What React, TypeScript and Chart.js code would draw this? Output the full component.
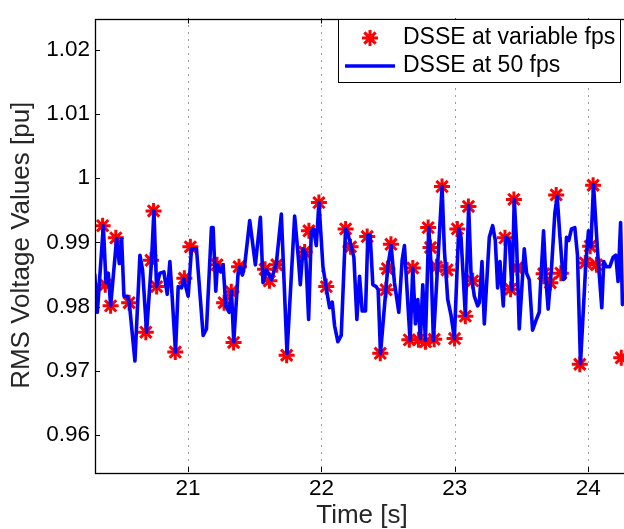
import React, { useEffect, useRef } from "react";
import { Chart, registerables } from "chart.js";

Chart.register(...registerables);

// ---- data ----
const lineTimes = [
  20.300, 20.3195, 20.3644, 20.3844, 20.4018, 20.4193, 20.4642, 20.4842, 20.5016, 20.5191,
  20.5440, 20.5590, 20.6014, 20.6389, 20.6588, 20.6888, 20.7262, 20.7437, 20.7636, 20.7886,
  20.8185, 20.8435, 20.8634, 20.8759, 20.9058, 20.9258, 20.9507, 20.9682, 21.0006, 21.0256,
  21.0630, 21.1129, 21.1379, 21.1753, 21.1877, 21.2077, 21.2202, 21.2451, 21.2626, 21.2826,
  21.3075, 21.3250, 21.3424, 21.3749, 21.3874, 21.4073, 21.4248, 21.4622, 21.5046, 21.5420,
  21.5620, 21.5869, 21.6243, 21.6618, 21.6992, 21.7416, 21.7990, 21.8239, 21.8414, 21.8614,
  21.8813, 21.9038, 21.9237, 21.9412, 21.9612, 21.9811, 22.0111, 22.0360, 22.0610, 22.0809,
  22.0984, 22.1233, 22.1483, 22.1807, 22.1982, 22.2231, 22.2431, 22.2656, 22.2855, 22.3055,
  22.3304, 22.3479, 22.3653, 22.3853, 22.4103, 22.4252, 22.4427, 22.4976, 22.5225, 22.5475,
  22.5799, 22.6049, 22.6223, 22.6473, 22.6648, 22.6847, 22.7047, 22.7222, 22.7421, 22.7596,
  22.7795, 22.8045, 22.8220, 22.8394, 22.9043, 22.9218, 22.9467, 22.9717, 22.9966, 23.0291,
  23.0465, 23.0790, 23.1039, 23.1214, 23.1463, 23.1713, 23.1838, 23.2037, 23.2212, 23.2586,
  23.2836, 23.3035, 23.3210, 23.3385, 23.3634, 23.3834, 23.4083, 23.4283, 23.4457, 23.4632,
  23.4832, 23.5206, 23.5381, 23.5580, 23.5830, 23.6079, 23.6329, 23.6428, 23.6653, 23.6827,
  23.6998, 23.7251, 23.7501, 23.7675, 23.7875, 23.8125, 23.8249, 23.8374, 23.8546, 23.8748,
  23.8998, 23.9197, 23.9422, 23.9822, 24.0021, 24.0196, 24.0400, 24.0695, 24.1019, 24.1168,
  24.1368, 24.1618, 24.1868, 24.2067, 24.2241, 24.2430, 24.2566,
];
const lineValues = [
  0.9850, 0.9791, 0.9926, 0.9837, 0.9852, 0.9801, 0.9906, 0.9867, 0.9906, 0.9816,
  0.9816, 0.9806, 0.9715, 0.9880, 0.9857, 0.9760, 0.9872, 0.9949, 0.9831, 0.9852,
  0.9854, 0.9819, 0.9870, 0.9831, 0.9729, 0.9831, 0.9829, 0.9843, 0.9816, 0.9890,
  0.9890, 0.9755, 0.9765, 0.9923, 0.9923, 0.9824, 0.9865, 0.9854, 0.9865, 0.9801,
  0.9791, 0.9824, 0.9745, 0.9852, 0.9862, 0.9849, 0.9865, 0.9934, 0.9865, 0.9939,
  0.9837, 0.9857, 0.9842, 0.9867, 0.9944, 0.9727, 0.9941, 0.9883, 0.9834, 0.9890,
  0.9883, 0.9780, 0.9916, 0.9921, 0.9895, 0.9962, 0.9862, 0.9829, 0.9798, 0.9807,
  0.9770, 0.9745, 0.9755, 0.9921, 0.9913, 0.9893, 0.9877, 0.9780, 0.9847, 0.9793,
  0.9793, 0.9911, 0.9911, 0.9834, 0.9831, 0.9826, 0.9727, 0.9862, 0.9895, 0.9837,
  0.9791, 0.9872, 0.9895, 0.9806, 0.9747, 0.9860, 0.9773, 0.9811, 0.9750, 0.9834,
  0.9747, 0.9923, 0.9865, 0.9747, 0.9987, 0.9888, 0.9811, 0.9786, 0.9750, 0.9921,
  0.9908, 0.9786, 0.9957, 0.9852, 0.9816, 0.9801, 0.9806, 0.9870, 0.9773, 0.9908,
  0.9926, 0.9903, 0.9829, 0.9870, 0.9801, 0.9908, 0.9903, 0.9826, 0.9967, 0.9898,
  0.9765, 0.9890, 0.9852, 0.9842, 0.9763, 0.9778, 0.9791, 0.9834, 0.9918, 0.9844,
  0.9796, 0.9860, 0.9946, 0.9972, 0.9911, 0.9842, 0.9844, 0.9908, 0.9903, 0.9921,
  0.9923, 0.9880, 0.9711, 0.9867, 0.9918, 0.9893, 0.9990, 0.9888, 0.9798, 0.9870,
  0.9862, 0.9862, 0.9877, 0.9880, 0.9839, 0.9931, 0.9803,
];
const markerTimes = [
  20.359, 20.379, 20.419, 20.458, 20.558, 20.683, 20.722, 20.741, 20.764, 20.904,
  20.972, 21.017, 21.217, 21.270, 21.324, 21.341, 21.382, 21.577, 21.610, 21.665,
  21.739, 21.874, 21.906, 21.981, 22.036, 22.181, 22.218, 22.343, 22.441, 22.484,
  22.494, 22.521, 22.659, 22.685, 22.727, 22.780, 22.800, 22.818, 22.845, 22.862,
  22.904, 22.942, 22.998, 23.019, 23.079, 23.102, 23.134, 23.376, 23.418, 23.443,
  23.466, 23.666, 23.716, 23.760, 23.795, 23.937, 23.978, 24.015, 24.037, 24.062,
  24.248,
];
const markerValues = [
  0.9926, 0.9834, 0.9801, 0.9907, 0.9806, 0.9760, 0.9872, 0.9949, 0.9831, 0.9729,
  0.9844, 0.9893, 0.9865, 0.9806, 0.9823, 0.9744, 0.9862, 0.9858, 0.9840, 0.9865,
  0.9724, 0.9885, 0.9918, 0.9962, 0.9831, 0.9921, 0.9893, 0.9909, 0.9727, 0.9826,
  0.9859, 0.9897, 0.9748, 0.9860, 0.9748, 0.9745, 0.9923, 0.9892, 0.9749, 0.9862,
  0.9987, 0.9857, 0.9750, 0.9921, 0.9785, 0.9956, 0.9840, 0.9907, 0.9827, 0.9967,
  0.9860, 0.9851, 0.9837, 0.9974, 0.9852, 0.9710, 0.9868, 0.9894, 0.9989, 0.9865,
  0.9720,
];
const xTicks = [21, 22, 23, 24];
const yTicks = [0.96, 0.97, 0.98, 0.99, 1.0, 1.01, 1.02];
const seriesNames = ["DSSE at variable fps", "DSSE at 50 fps"];
const xTitle = "Time [s]";
const yTitle = "RMS Voltage Values [pu]";

const X_MIN = 20.302;
const X_MAX = 24.306;
const Y_MIN = 0.9542;
const Y_MAX = 1.0249;

const FONT = "'Liberation Sans', Arial, Helvetica, sans-serif";
const RED = "#ff0000";
const BLUE = "#0000ff";

function drawAsterisk(ctx: CanvasRenderingContext2D, cx: number, cy: number, r: number) {
  ctx.beginPath();
  for (let k = 0; k < 4; k++) {
    const a = (k * Math.PI) / 4;
    const dx = Math.cos(a) * r;
    const dy = Math.sin(a) * r;
    ctx.moveTo(cx - dx, cy - dy);
    ctx.lineTo(cx + dx, cy + dy);
  }
  ctx.stroke();
}

const decorPlugin = {
  id: "decor",
  beforeDatasetsDraw(chart: any) {
    const { ctx, chartArea: a, scales } = chart;
    const x = scales.x;
    ctx.save();
    ctx.strokeStyle = "#3a3a3a";
    ctx.lineWidth = 1;
    ctx.setLineDash([1, 6]);
    for (const t of xTicks) {
      const px = Math.round(x.getPixelForValue(t)) + 0.5;
      ctx.beginPath();
      ctx.moveTo(px, a.top);
      ctx.lineTo(px, a.bottom);
      ctx.stroke();
    }
    ctx.restore();
  },
  afterDatasetsDraw(chart: any) {
    const { ctx, chartArea: a, scales } = chart;
    const x = scales.x;
    const y = scales.y;
    ctx.save();
    // frame
    ctx.strokeStyle = "#000";
    ctx.lineWidth = 1.3;
    ctx.setLineDash([]);
    ctx.strokeRect(Math.round(a.left) + 0.5, Math.round(a.top) + 0.5, Math.round(a.right - a.left), Math.round(a.bottom - a.top));
    // inward ticks
    ctx.lineWidth = 1;
    for (const t of xTicks) {
      const px = Math.round(x.getPixelForValue(t)) + 0.5;
      ctx.beginPath();
      ctx.moveTo(px, a.bottom);
      ctx.lineTo(px, a.bottom - 5);
      ctx.moveTo(px, a.top);
      ctx.lineTo(px, a.top + 5);
      ctx.stroke();
    }
    for (const v of yTicks) {
      const py = Math.round(y.getPixelForValue(v)) + 0.5;
      ctx.beginPath();
      ctx.moveTo(a.left, py);
      ctx.lineTo(a.left + 5, py);
      ctx.moveTo(a.right, py);
      ctx.lineTo(a.right - 5, py);
      ctx.stroke();
    }
    // axis titles
    ctx.fillStyle = "#262626";
    ctx.font = `26px ${FONT}`;
    ctx.textAlign = "center";
    ctx.textBaseline = "middle";
    ctx.fillText(xTitle, (a.left + a.right) / 2, 516);
    ctx.save();
    ctx.translate(22, (a.top + a.bottom) / 2);
    ctx.rotate(-Math.PI / 2);
    ctx.fillText(yTitle, 0, 0);
    ctx.restore();
    // legend
    const lx = 338.5, ly = 19.5, lw = 282, lh = 63;
    ctx.fillStyle = "#fff";
    ctx.fillRect(lx, ly, lw, lh);
    ctx.strokeStyle = "#000";
    ctx.lineWidth = 1;
    ctx.strokeRect(lx, ly, lw, lh);
    ctx.strokeStyle = RED;
    ctx.lineWidth = 3;
    drawAsterisk(ctx, 370, 38, 8);
    ctx.strokeStyle = BLUE;
    ctx.lineWidth = 3.5;
    ctx.beginPath();
    ctx.moveTo(345, 66);
    ctx.lineTo(395, 66);
    ctx.stroke();
    ctx.fillStyle = "#000";
    ctx.font = `23px ${FONT}`;
    ctx.textAlign = "left";
    ctx.textBaseline = "middle";
    ctx.fillText(seriesNames[0], 403, 38);
    ctx.fillText(seriesNames[1], 403, 66);
    ctx.restore();
  },
};

export default function App() {
  const ref = useRef<HTMLCanvasElement | null>(null);
  useEffect(() => {
    if (!ref.current) return;
    const linePts = lineTimes.map((t, i) => ({ x: t, y: lineValues[i] }));
    const markPts = markerTimes.map((t, i) => ({ x: t, y: markerValues[i] }));
    const chart = new Chart(ref.current, {
      type: "scatter",
      data: {
        datasets: [
          {
            label: seriesNames[1],
            data: linePts,
            showLine: true,
            borderColor: BLUE,
            backgroundColor: BLUE,
            borderWidth: 3.6,
            borderJoinStyle: "round",
            borderCapStyle: "round",
            pointRadius: 0,
            tension: 0,
            order: 0,
          },
          {
            label: seriesNames[0],
            data: markPts,
            showLine: false,
            pointStyle: "star",
            pointRadius: 8,
            borderColor: RED,
            backgroundColor: RED,
            pointBorderWidth: 3,
            borderWidth: 3,
            order: 1,
          },
        ],
      },
      options: {
        animation: false,
        responsive: false,
        events: [],
        layout: { padding: { left: 0, top: 11, right: 10, bottom: 0 } },
        plugins: { legend: { display: false }, tooltip: { enabled: false } },
        scales: {
          x: {
            type: "linear",
            min: X_MIN,
            max: X_MAX,
            grid: { display: false, drawTicks: false },
            border: { display: false },
            afterBuildTicks: (s: any) => {
              s.ticks = xTicks.map((v) => ({ value: v }));
            },
            afterFit: (s: any) => {
              s.height = 57;
            },
            ticks: {
              color: "#000",
              padding: 3,
              maxRotation: 0,
              autoSkip: false,
              font: { family: FONT, size: 22.5 },
              callback: (v: any) => String(v),
            },
          },
          y: {
            type: "linear",
            min: Y_MIN,
            max: Y_MAX,
            grid: { display: false, drawTicks: false },
            border: { display: false },
            afterBuildTicks: (s: any) => {
              s.ticks = yTicks.map((v) => ({ value: v }));
            },
            afterFit: (s: any) => {
              s.width = 95;
            },
            ticks: {
              color: "#000",
              padding: 5,
              autoSkip: false,
              font: { family: FONT, size: 22.5 },
              callback: (v: any) => String(Number(Number(v).toFixed(2))),
            },
          },
        },
      },
      plugins: [decorPlugin],
    });
    return () => chart.destroy();
  }, []);
  return (
    <div style={{ position: "fixed", left: 0, top: 0, width: 640, height: 529, background: "#fff", overflow: "hidden" }}>
      <canvas ref={ref} width={640} height={529} style={{ width: 640, height: 529, display: "block" }} />
    </div>
  );
}
